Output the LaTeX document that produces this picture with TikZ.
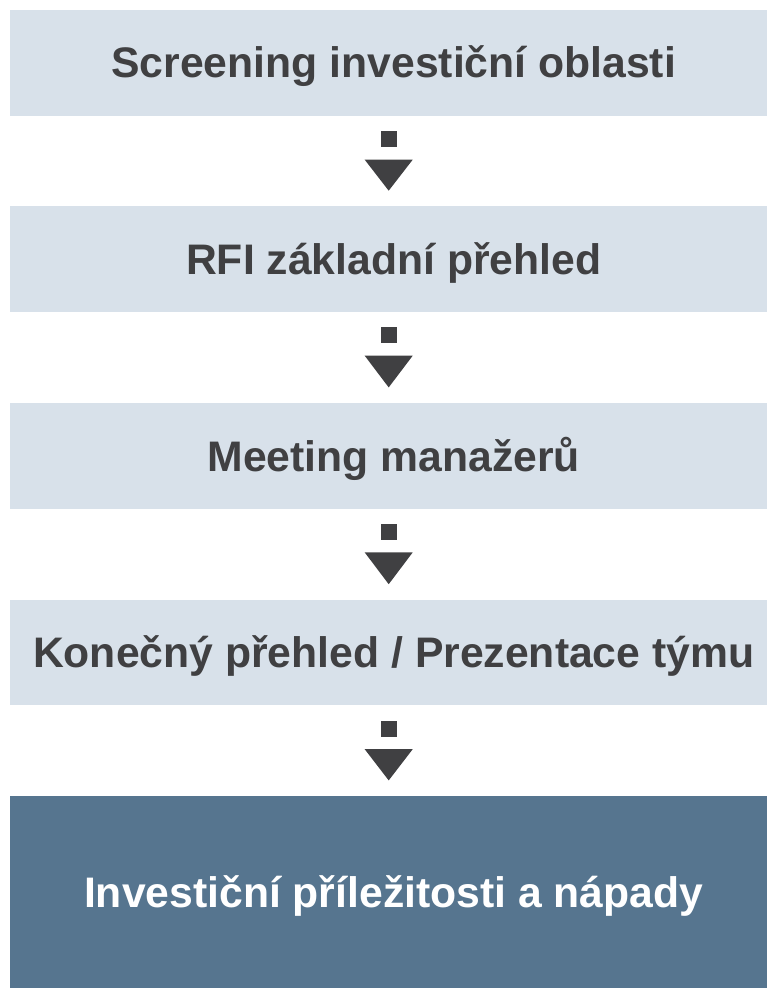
\documentclass[tikz,border=0pt]{standalone}
\usepackage{fontspec}
\setmainfont{Liberation Sans}
\usetikzlibrary{calc}
\definecolor{lightbox}{HTML}{D8E1EA}
\definecolor{darkbox}{HTML}{56758F}
\definecolor{ink}{HTML}{404042}
\tikzset{
  stepbox/.style={fill=lightbox, draw=none, minimum width=757pt, minimum height=105.7pt,
    anchor=north west, inner sep=0pt},
  lbl/.style={font=\fontsize{42.7}{48}\selectfont\bfseries, text height=30.5pt, text depth=0pt,
    inner sep=0pt, anchor=center},
}
\newcommand{\flowarrow}[2]{%
  \fill[ink] ($(#1.south)+(-8,15)$) rectangle ($(#1.south)+(8,31)$);
  \fill[ink] ($(#1.south)+(-24,43.6)$) -- ($(#1.south)+(24,43.6)$) -- ($(#2.north)+(0,-15.3)$) -- cycle;
}
\begin{document}
\begin{tikzpicture}[x=1pt,y=-1pt]
\useasboundingbox (0,0) rectangle (767,988);
\node[stepbox] (b1) at (10,10) {};
\node[stepbox] (b2) at (10,206) {};
\node[stepbox] (b3) at (10,402.7) {};
\node[stepbox] (b4) at (10,599.5) {};
\node[stepbox, fill=darkbox, minimum height=192.3pt] (b5) at (10,795.7) {};
\node[lbl, text=ink] (t1) at ($(b1.center)+(5,-1)$) {Screening investiční oblasti};
\node[lbl, text=ink] (t2) at ($(b2.center)+(5,0)$) {RFI základní přehled};
\node[lbl, text=ink] (t3) at ($(b3.center)+(5,0)$) {Meeting manažerů};
\node[lbl, text=ink] (t4) at ($(b4.center)+(5,0)$) {Konečný přehled / Prezentace týmu};
\node[lbl, text=white] (t5) at ($(b5.center)+(5,0)$) {Investiční příležitosti a nápady};
\flowarrow{b1}{b2}
\flowarrow{b2}{b3}
\flowarrow{b3}{b4}
\flowarrow{b4}{b5}
\end{tikzpicture}
\end{document}
